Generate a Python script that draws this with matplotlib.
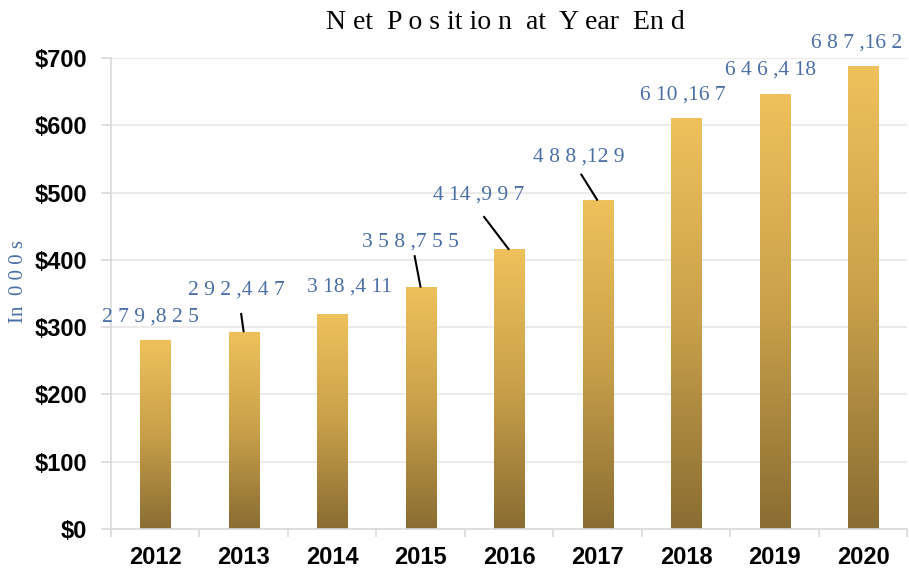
import numpy as np
import matplotlib.pyplot as plt
from matplotlib.colors import LinearSegmentedColormap

# -------------------------
# Data
# -------------------------
years = ["2012", "2013", "2014", "2015", "2016", "2017", "2018", "2019", "2020"]
net_position = [279.825, 292.447, 318.411, 358.755, 414.997, 488.129, 610.167, 646.418, 687.162]
# labels as drawn in the original (spaced out)
value_labels = ["2 7 9 ,8 2 5", "2 9 2 ,4 4 7", "3 18 ,4 11", "3 5 8 ,7 5 5", "4 14 ,9 9 7",
                "4 8 8 ,12 9", "6 10 ,16 7", "6 4 6 ,4 18", "6 8 7 ,16 2"]
y_ticks = [0, 100, 200, 300, 400, 500, 600, 700]
y_tick_labels = ["$0", "$100", "$200", "$300", "$400", "$500", "$600", "$700"]

# label placement (x offset from bar, y of label centre) and leader line starts
label_pos = [(-0.05, 315), (-0.08, 355), (0.20, 360), (-0.12, 427), (-0.34, 496),
             (-0.21, 553), (-0.04, 645), (-0.04, 682), (-0.07, 722)]
leaders = {1: (-0.03, 321), 3: (-0.07, 407), 4: (-0.29, 465), 5: (-0.19, 528)}

label_color = "#4A6FA5"
grad = LinearSegmentedColormap.from_list("gold", ["#8A6D33", "#C9A04A", "#EFC15C"])

# -------------------------
# Plot
# -------------------------
fig = plt.figure(figsize=(9.09, 5.69), dpi=100)
ax = fig.add_axes([0.1221, 0.0703, 0.876, 0.8277])

bar_w = 0.34
gradient = np.linspace(0, 1, 256).reshape(-1, 1)
for i, v in enumerate(net_position):
    ax.imshow(gradient, extent=[i - bar_w / 2, i + bar_w / 2, 0, v], origin="lower",
              aspect="auto", cmap=grad, zorder=2)

for i, (txt, (dx, ly)) in enumerate(zip(value_labels, label_pos)):
    ax.text(i + dx, ly, txt, ha="center", va="center", color=label_color,
            fontsize=15.5, family="Liberation Serif", zorder=4)
    if i in leaders:
        sx, sy = leaders[i]
        ax.plot([i + sx, i], [sy, net_position[i]], color="black", lw=1.5, zorder=3,
                solid_capstyle="butt")

ax.set_xlim(-0.5, len(years) - 0.5)
ax.set_ylim(0, 700)
ax.set_yticks(y_ticks)
ax.set_yticklabels(y_tick_labels, fontsize=17, fontweight="bold", family="Liberation Sans")
ax.set_xticks(range(len(years)))
ax.set_xticklabels(years, fontsize=17, fontweight="bold", family="Liberation Sans")
ax.set_xticks(np.arange(-0.5, len(years)), minor=True)
ax.tick_params(axis="x", which="major", length=0, pad=12)
ax.tick_params(axis="x", which="minor", length=6, color="#D9D9D9", width=1.2)
ax.tick_params(axis="y", length=7, color="#D9D9D9", width=1.2, pad=10)

ax.grid(axis="y", color="#EBEBEB", lw=1.5, zorder=0)
ax.set_axisbelow(True)
for s in ["top", "right"]:
    ax.spines[s].set_visible(False)
ax.spines["left"].set_color("#D9D9D9")
ax.spines["bottom"].set_color("#D9D9D9")
ax.spines["left"].set_linewidth(1.2)
ax.spines["bottom"].set_linewidth(1.2)

fig.text(0.556, 0.961, "N et  P o s it io n  at  Y ear  En d", ha="center", va="center",
         fontsize=20, family="Liberation Serif", color="black")
fig.text(0.02, 0.506, "In  0 0 0 s", rotation=90, ha="center", va="center",
         fontsize=15, family="Liberation Serif", color=label_color)

fig.savefig("out.png", dpi=100)
